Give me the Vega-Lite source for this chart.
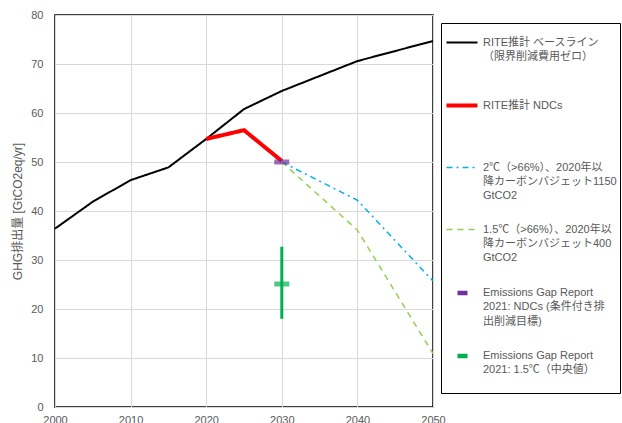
{
  "$schema": "https://vega.github.io/schema/vega-lite/v6.json",
  "width": 378,
  "height": 392,
  "autosize": "none",
  "padding": {"left": 55, "top": 15, "right": 189, "bottom": 16},
  "background": "white",
  "config": {
    "view": {"stroke": "#000000", "strokeWidth": 1.5},
    "font": "Liberation Sans, Noto Sans CJK JP",
    "axis": {"labelFont": "Liberation Sans", "labelColor": "#595959", "labelFontSize": 11, "labelFlush": false, "gridColor": "#D9D9D9", "gridWidth": 1, "domain": false, "ticks": false, "titleFont": "Liberation Sans, Noto Sans CJK JP", "titleColor": "#595959", "titleFontWeight": "normal", "titleFontSize": 12}
  },
  "datasets": {
    "lines": [
      {"series": "RITE推計 ベースライン|（限界削減費用ゼロ）", "year": 2000, "value": 36.4},
      {"series": "RITE推計 ベースライン|（限界削減費用ゼロ）", "year": 2005, "value": 41.9},
      {"series": "RITE推計 ベースライン|（限界削減費用ゼロ）", "year": 2010, "value": 46.3},
      {"series": "RITE推計 ベースライン|（限界削減費用ゼロ）", "year": 2015, "value": 48.9},
      {"series": "RITE推計 ベースライン|（限界削減費用ゼロ）", "year": 2020, "value": 54.7},
      {"series": "RITE推計 ベースライン|（限界削減費用ゼロ）", "year": 2025, "value": 60.8},
      {"series": "RITE推計 ベースライン|（限界削減費用ゼロ）", "year": 2030, "value": 64.5},
      {"series": "RITE推計 ベースライン|（限界削減費用ゼロ）", "year": 2040, "value": 70.6},
      {"series": "RITE推計 ベースライン|（限界削減費用ゼロ）", "year": 2050, "value": 74.7},
      {"series": "2℃（>66%）、2020年以|降カーボンバジェット1150|GtCO2", "year": 2030, "value": 50.0},
      {"series": "2℃（>66%）、2020年以|降カーボンバジェット1150|GtCO2", "year": 2040, "value": 42.2},
      {"series": "2℃（>66%）、2020年以|降カーボンバジェット1150|GtCO2", "year": 2050, "value": 25.7},
      {"series": "1.5℃（>66%）、2020年以|降カーボンバジェット400|GtCO2", "year": 2030, "value": 50.0},
      {"series": "1.5℃（>66%）、2020年以|降カーボンバジェット400|GtCO2", "year": 2040, "value": 36.1},
      {"series": "1.5℃（>66%）、2020年以|降カーボンバジェット400|GtCO2", "year": 2050, "value": 10.9},
      {"series": "RITE推計 NDCs", "year": 2020, "value": 54.7},
      {"series": "RITE推計 NDCs", "year": 2025, "value": 56.5},
      {"series": "RITE推計 NDCs", "year": 2030, "value": 50.2}
    ],
    "markers": [
      {"series": "Emissions Gap Report|2021: NDCs (条件付き排|出削減目標)", "year": 2030, "value": 50.0},
      {"series": "Emissions Gap Report|2021: 1.5℃（中央値）", "year": 2030, "value": 25.1, "low": 18.0, "high": 32.7}
    ]
  },
  "layer": [
    {
      "data": {"name": "lines"},
      "mark": {"type": "line", "strokeCap": "butt"},
      "encoding": {
        "x": {"field": "year", "type": "quantitative", "scale": {"domain": [2000, 2050], "nice": false}, "axis": {"values": [2000, 2010, 2020, 2030, 2040, 2050], "format": "d", "title": null, "labelPadding": 7, "grid": true}},
        "y": {"field": "value", "type": "quantitative", "scale": {"domain": [0, 80], "nice": false}, "axis": {"values": [0, 10, 20, 30, 40, 50, 60, 70, 80], "title": "GHG排出量 [GtCO2eq/yr]", "labelPadding": 12, "titlePadding": 6, "grid": true}},
        "color": {
          "field": "series", "type": "nominal",
          "scale": {
            "domain": ["RITE推計 ベースライン|（限界削減費用ゼロ）", "RITE推計 NDCs", "2℃（>66%）、2020年以|降カーボンバジェット1150|GtCO2", "1.5℃（>66%）、2020年以|降カーボンバジェット400|GtCO2", "Emissions Gap Report|2021: NDCs (条件付き排|出削減目標)", "Emissions Gap Report|2021: 1.5℃（中央値）"],
            "range": ["#000000", "#FF0000", "#00B0F0", "#92D050", "#7030A0", "#00B050"]
          },
          "legend": {
            "title": null,
            "orient": "none",
            "legendX": 386,
            "legendY": 8,
            "strokeColor": "#000000",
            "fillColor": "#FFFFFF",
            "padding": 3,
            "symbolType": "stroke",
            "symbolSize": 961,
            "labelOffset": 3,
            "labelFont": "Liberation Sans, Noto Sans CJK JP",
            "labelFontSize": 11,
            "labelColor": "#595959",
            "labelLimit": 300,
            "labelBaseline": "top",
            "rowPadding": 11,
            "labelExpr": "split(datum.label + slice('| | ', 0, 2 * (3 - length(split(datum.label, '|')))), '|')",
            "encode": {
              "labels": {"update": {"dy": {"value": -6}, "lineHeight": {"value": 14.3}}},
              "symbols": {"update": {
                "stroke": {"scale": "color", "field": "value"},
                "strokeDash": {"scale": "strokeDash", "field": "value"},
                "strokeWidth": {"scale": "strokeWidth", "field": "value"},
                "strokeCap": {"value": "butt"}
              }}
            }
          }
        },
        "strokeDash": {
          "field": "series", "type": "nominal", "legend": null,
          "scale": {
            "domain": ["RITE推計 ベースライン|（限界削減費用ゼロ）", "RITE推計 NDCs", "2℃（>66%）、2020年以|降カーボンバジェット1150|GtCO2", "1.5℃（>66%）、2020年以|降カーボンバジェット400|GtCO2", "Emissions Gap Report|2021: NDCs (条件付き排|出削減目標)", "Emissions Gap Report|2021: 1.5℃（中央値）"],
            "range": [[1, 0], [1, 0], [6, 4, 2, 4], [6, 5], [0, 11, 10, 100], [0, 11, 10, 100]]
          }
        },
        "strokeWidth": {
          "field": "series", "type": "nominal", "legend": null,
          "scale": {
            "type": "ordinal",
            "domain": ["RITE推計 ベースライン|（限界削減費用ゼロ）", "RITE推計 NDCs", "2℃（>66%）、2020年以|降カーボンバジェット1150|GtCO2", "1.5℃（>66%）、2020年以|降カーボンバジェット400|GtCO2", "Emissions Gap Report|2021: NDCs (条件付き排|出削減目標)", "Emissions Gap Report|2021: 1.5℃（中央値）"],
            "range": [2, 4, 1.5, 1.5, 4.5, 4.5]
          }
        },
        "order": {"field": "year"}
      }
    },
    {
      "data": {"name": "markers"},
      "transform": [{"filter": "isValid(datum.low)"}],
      "mark": {"type": "rule", "strokeWidth": 3},
      "encoding": {
        "x": {"field": "year", "type": "quantitative"},
        "y": {"field": "low", "type": "quantitative"},
        "y2": {"field": "high"},
        "color": {"field": "series", "type": "nominal"}
      }
    },
    {
      "data": {"name": "markers"},
      "mark": {"type": "tick", "orient": "horizontal", "size": 15, "thickness": 5},
      "encoding": {
        "x": {"field": "year", "type": "quantitative"},
        "y": {"field": "value", "type": "quantitative"},
        "color": {"field": "series", "type": "nominal"}
      }
    }
  ]
}
